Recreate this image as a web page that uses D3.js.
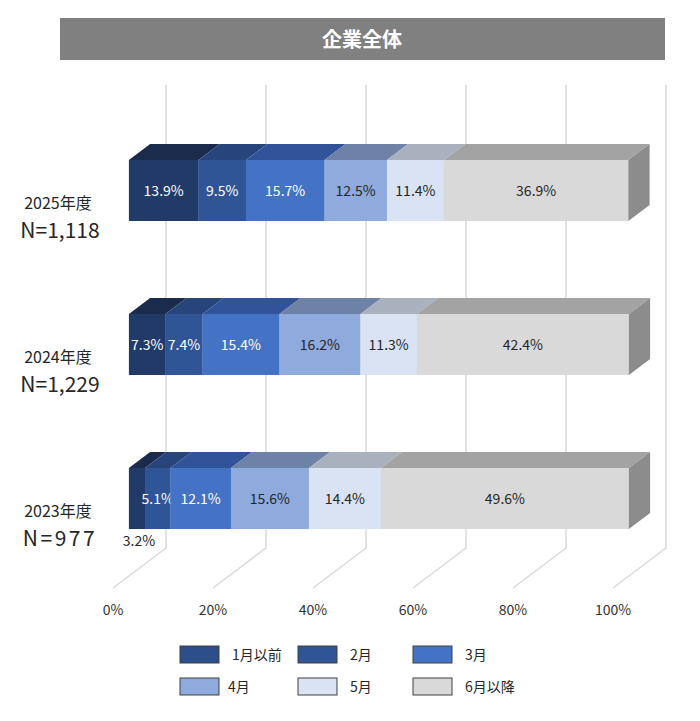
<!DOCTYPE html>
<html>
<head>
<meta charset="utf-8">
<script src="https://cdn.jsdelivr.net/npm/d3@7"></script>
<style>
  body { margin: 0; background: #fff; }
  text { font-family: "Noto Sans CJK JP", "Noto Sans", sans-serif; }
</style>
</head>
<body>
<script>
const title = "企業全体";
const categories = ["2025年度", "2024年度", "2023年度"];
const sampleSizes = ["N=1,118", "N=1,229", "N=977"];
const seriesNames = ["1月以前", "2月", "3月", "4月", "5月", "6月以降"];
const values = [
  [13.9, 9.5, 15.7, 12.5, 11.4, 36.9],
  [7.3, 7.4, 15.4, 16.2, 11.3, 42.4],
  [3.2, 5.1, 12.1, 15.6, 14.4, 49.6],
];
const tickValues = [0, 20, 40, 60, 80, 100];

const frontColors = ["#213a68", "#2f5597", "#4472c4", "#8faadc", "#dae3f3", "#d9d9d9"];
const topColors = ["#1b2b4c", "#27457a", "#30539a", "#6e82a8", "#a9b1bf", "#a3a3a3"];
const legendColors = ["#2c4f8c", "#2f5597", "#4472c4", "#8faadc", "#dae3f3", "#d9d9d9"];
const textColors = ["#fff", "#fff", "#fff", "#262626", "#262626", "#262626"];

const W = 700, H = 721;
const svg = d3.select("body").append("svg").attr("width", W).attr("height", H);

// title bar
svg.append("rect").attr("x", 60).attr("y", 18).attr("width", 605).attr("height", 42).attr("fill", "#808080");
svg.append("text").attr("x", 362).attr("y", 47).attr("text-anchor", "middle")
  .attr("fill", "#fff").attr("font-size", 20).attr("font-weight", "bold").text(title);

// oblique projection: value along x, depth d from 0 (floor front) to 1 (back wall)
const x = d3.scaleLinear().domain([0, 100]).range([113, 613]);
const depthX = 53, depthY = 40;
const px = (v, d) => x(v) + d * depthX;
const floorY = 588, gridTop = 85;

const grid = svg.append("g").attr("stroke", "#d9d9d9").attr("stroke-width", 1.5).attr("fill", "none");
tickValues.forEach(t => {
  grid.append("path").attr("d", d3.line()([
    [px(t, 1), gridTop], [px(t, 1), floorY - depthY], [px(t, 0), floorY]
  ]));
});

svg.append("g").selectAll("text").data(tickValues).join("text")
  .attr("x", t => x(t)).attr("y", 615).attr("text-anchor", "middle")
  .attr("font-size", 14).attr("fill", "#333").text(t => t + "%");

// bars
const y = d3.scaleBand().domain(categories).range([113.5, 575.5]).paddingInner(0.604).paddingOuter(0.302);
const dF = 0.3, dB = 0.7;
const ddx = (dB - dF) * depthX, ddy = (dB - dF) * depthY;

categories.forEach((cat, i) => {
  const row = values[i];
  const stack = d3.cumsum(row);
  const y0 = y(cat), bh = y.bandwidth();
  const g = svg.append("g");
  row.forEach((v, j) => {
    const a = stack[j] - v, b = stack[j];
    const xa = px(a, dF), xb = px(b, dF);
    g.append("path").attr("fill", topColors[j])
      .attr("d", d3.line()([[xa, y0], [xb, y0], [xb + ddx, y0 - ddy], [xa + ddx, y0 - ddy]]) + "Z");
    g.append("rect").attr("x", xa).attr("y", y0).attr("width", xb - xa + 0.3).attr("height", bh)
      .attr("fill", frontColors[j]);
    if (j === row.length - 1) {
      g.append("path").attr("fill", "#8c8c8c")
        .attr("d", d3.line()([[xb, y0], [xb + ddx, y0 - ddy], [xb + ddx, y0 - ddy + bh], [xb, y0 + bh]]) + "Z");
    }
    const small = v < 4;
    g.append("text").attr("x", (xa + xb) / 2 + (small ? 2 : 0))
      .attr("y", small ? y0 + bh + 17 : y0 + bh / 2 + 5)
      .attr("text-anchor", "middle").attr("font-size", 14)
      .attr("fill", small ? "#262626" : textColors[j])
      .text(v.toFixed(1) + "%");
  });
  const cy = y0 + bh / 2;
  svg.append("text").attr("x", 58).attr("y", cy + 18).attr("text-anchor", "middle")
    .attr("font-size", 16).attr("fill", "#262626").text(cat);
  svg.append("text").attr("x", 60).attr("y", cy + 47).attr("text-anchor", "middle")
    .attr("font-size", 21).attr("letter-spacing", sampleSizes[i].length < 6 ? 2.5 : 0)
    .attr("fill", "#262626").text(sampleSizes[i]);
});

// legend
const legendCols = [180, 298, 413];
const legendRows = [646, 678];
const lg = svg.append("g").selectAll("g").data(seriesNames).join("g")
  .attr("transform", (d, i) => `translate(${legendCols[i % 3]},${legendRows[Math.floor(i / 3)]})`);
lg.append("rect").attr("width", 39).attr("height", 17)
  .attr("fill", (d, i) => legendColors[i]).attr("stroke", "#404040").attr("stroke-width", 1);
lg.append("text").attr("x", (d, i) => i === 3 ? 48 : 52).attr("y", 14).attr("font-size", 14)
  .attr("fill", "#262626").text(d => d);
</script>
</body>
</html>
